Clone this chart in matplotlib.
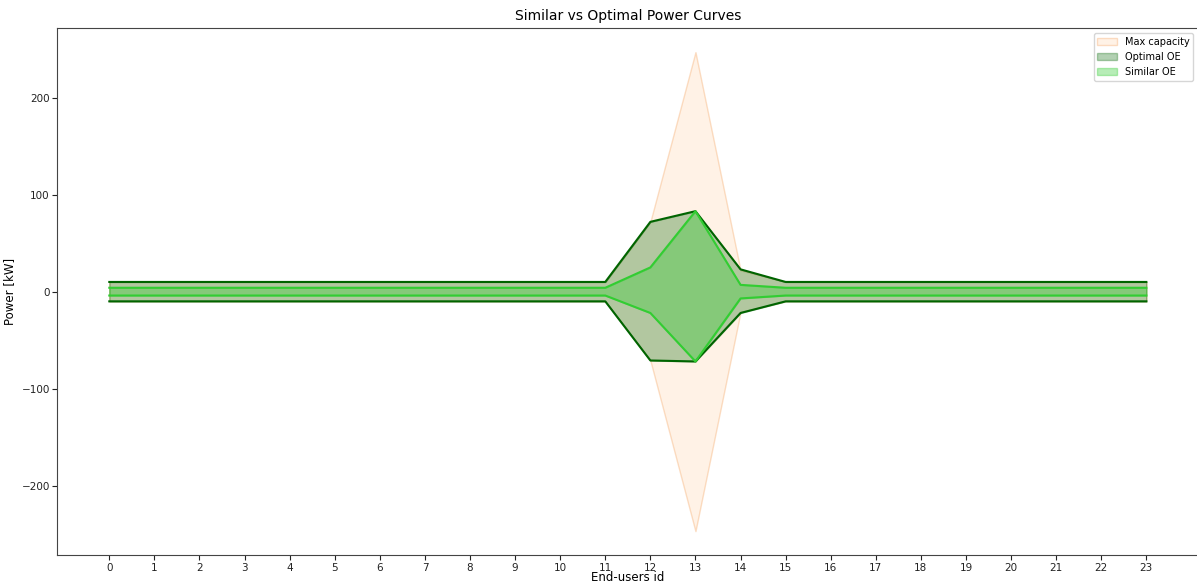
import numpy as np
import matplotlib
matplotlib.use("Agg")
import matplotlib.pyplot as plt

users = np.arange(24)

# power bounds per end-user [kW], ids 0..23
max_up  = [10]*12 + [72, 247, 22] + [10]*9
max_low = [-10]*12 + [-71, -247, -21] + [-10]*9

opt_up  = [10]*12 + [72, 83, 23] + [10]*9
opt_low = [-10]*12 + [-71, -72, -22] + [-10]*9

sim_up  = [4]*12 + [25, 83, 7] + [4]*9
sim_low = [-4]*12 + [-22, -72, -7] + [-4]*9

fig = plt.figure(figsize=(11.97, 5.88), dpi=100)
ax = fig.add_axes([0.048, 0.056, 0.953, 0.896])

ax.fill_between(users, max_low, max_up, facecolor="peachpuff", edgecolor="sandybrown",
                lw=1, alpha=0.35, label="Max capacity")
ax.fill_between(users, opt_low, opt_up, color="darkgreen", alpha=0.3, label="Optimal OE")
ax.plot(users, opt_up, color="darkgreen", lw=1.5)
ax.plot(users, opt_low, color="darkgreen", lw=1.5)
ax.fill_between(users, sim_low, sim_up, color="limegreen", alpha=0.35, label="Similar OE")
ax.plot(users, sim_up, color="limegreen", lw=1.5)
ax.plot(users, sim_low, color="limegreen", lw=1.5)

for s in ax.spines.values():
    s.set_color("#444444")
ax.set_xticks(users)
ax.tick_params(labelsize=7.5, colors="#222222", pad=2)
ax.set_title("Similar vs Optimal Power Curves", fontsize=10)
ax.set_xlabel("End-users id", fontsize=8.5, labelpad=-1)
ax.set_ylabel("Power [kW]", fontsize=8.5)
ax.legend(loc="upper right", fontsize=7)

fig.savefig("out.png", dpi=100)
